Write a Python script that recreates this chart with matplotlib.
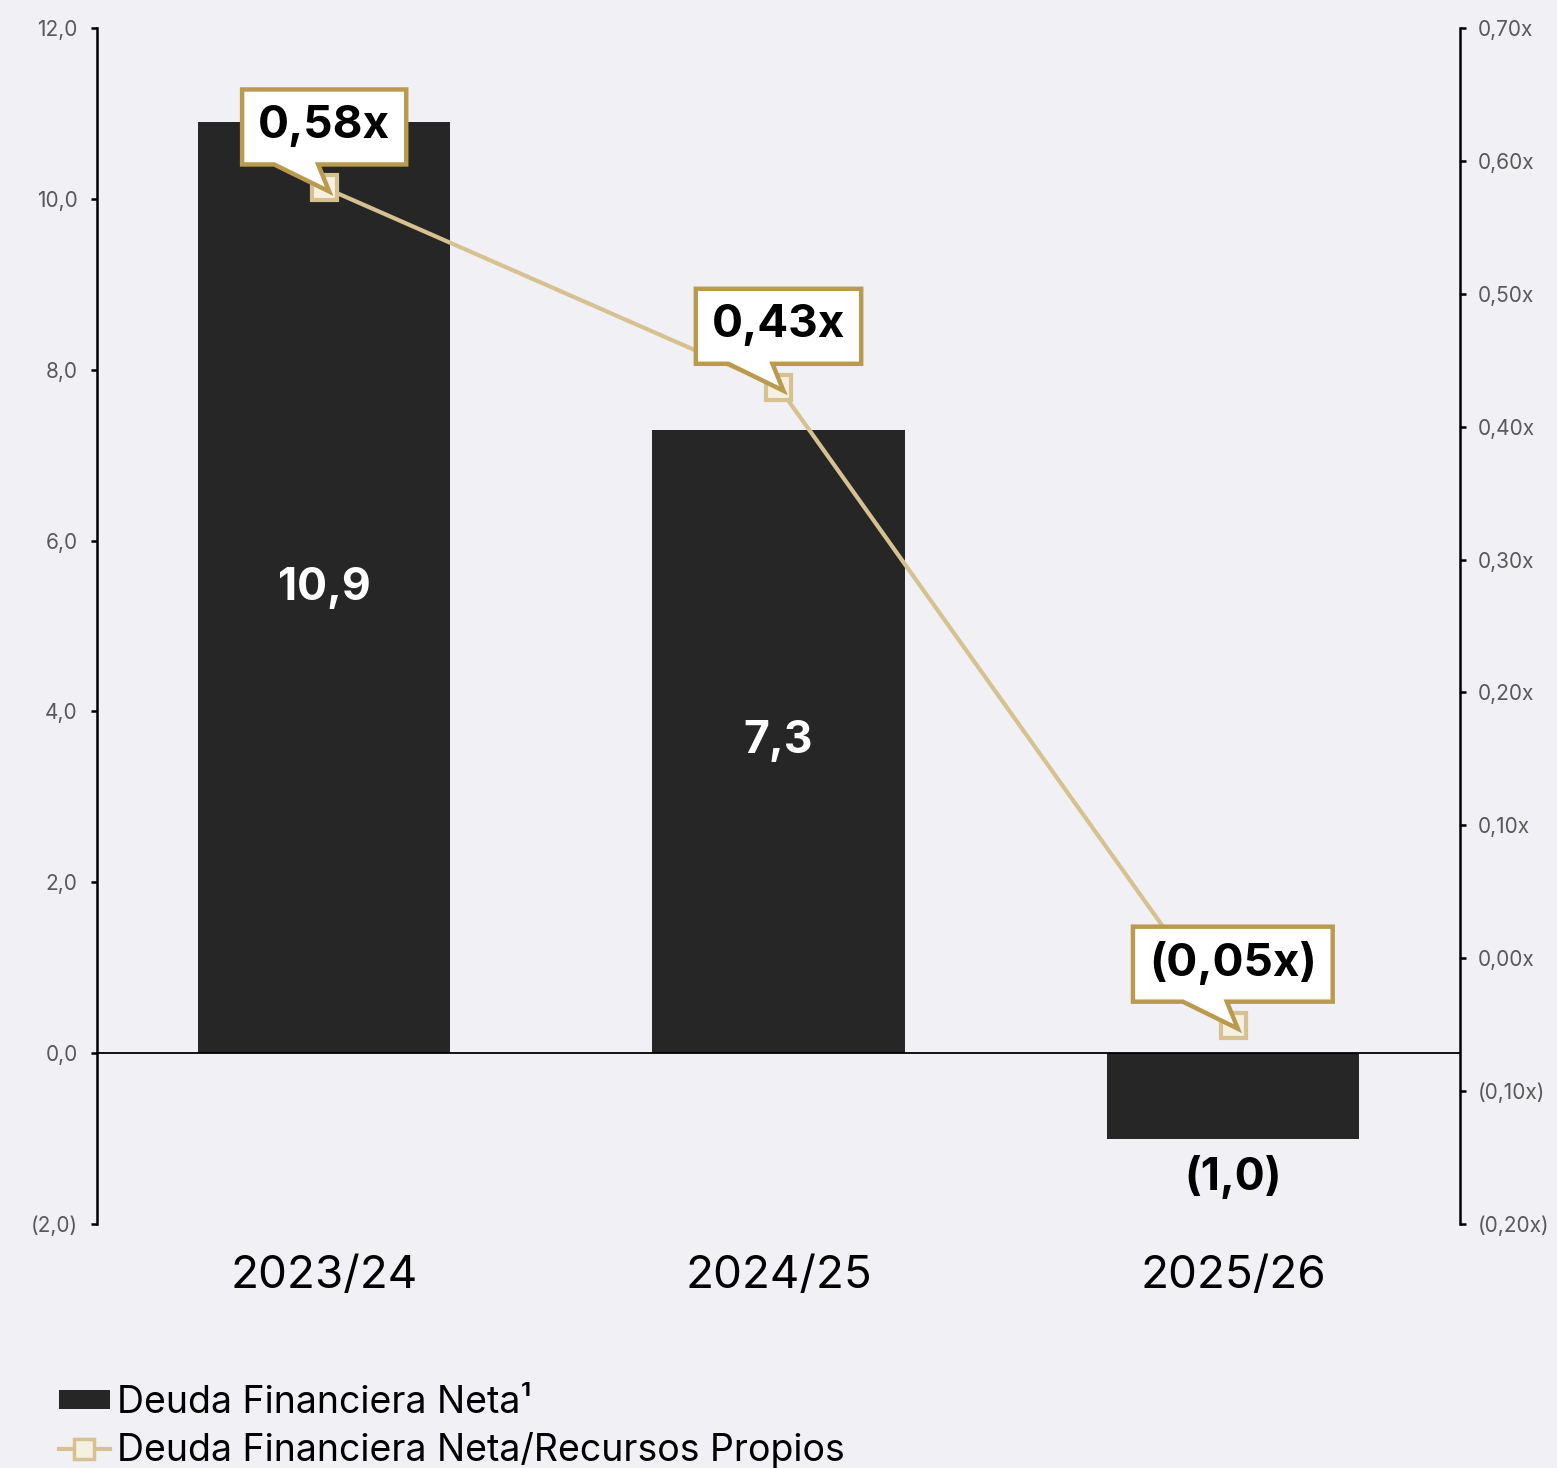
import matplotlib.pyplot as plt
import numpy as np
from matplotlib.patches import Polygon, Patch
from matplotlib.lines import Line2D
from matplotlib.transforms import ScaledTranslation

# data
periods = ['2023/24', '2024/25', '2025/26']
deuda = [10.9, 7.3, -1.0]
deuda_labels = ['10,9', '7,3', '(1,0)']
ratio = [0.58, 0.43, -0.05]
ratio_labels = ['0,58x', '0,43x', '(0,05x)']
left_ticks = [-2.0, 0.0, 2.0, 4.0, 6.0, 8.0, 10.0, 12.0]
right_ticks = [-0.2, -0.1, 0.0, 0.1, 0.2, 0.3, 0.4, 0.5, 0.6, 0.7]

bg = '#F0F0F5'
bar_col = '#262626'
tan = '#D6C290'
cream = '#F5F0E1'
gold = '#B99A4E'
grey = '#595959'

plt.rcParams['font.family'] = ['Inter', 'DejaVu Sans']


def fmt_left(v):
    s = f'{abs(v):.1f}'.replace('.', ',')
    return f'({s})' if v < -1e-9 else s


def fmt_right(v):
    s = f'{abs(v):.2f}'.replace('.', ',') + 'x'
    return f'({s})' if v < -1e-9 else s


fig = plt.figure(figsize=(15.57, 14.68), dpi=100, facecolor=bg)
ax = fig.add_axes([97/1557, 1 - 1224/1468, (1460-97)/1557, (1224-28)/1468])
ax.set_facecolor(bg)
ax2 = ax.twinx()
ax2.patch.set_visible(False)

x = np.arange(len(periods))
ax.bar(x, deuda, width=0.555, color=bar_col, zorder=2)
ax.axhline(0, color='black', lw=1.3, zorder=3)
ax.set_xlim(-0.5, 2.5)
ax.set_ylim(-2, 12)
ax.set_yticks(left_ticks)
ax.set_yticklabels([fmt_left(v) for v in left_ticks])
ax.set_xticks(x)
ax.set_xticklabels(periods, fontsize=33, color='black')
ax.tick_params(axis='x', length=0, pad=22)
ax.tick_params(axis='y', direction='out', length=4, width=1.8, pad=10,
               labelsize=15, labelcolor=grey)
for s in ['top', 'bottom', 'right']:
    ax.spines[s].set_visible(False)
ax.spines['left'].set_linewidth(1.8)

# bar labels
for i, v in enumerate(deuda):
    if v >= 0:
        ax.text(i, v / 2, deuda_labels[i], ha='center', va='center',
                color='white', fontsize=32, fontweight='bold', zorder=4)
    else:
        ax.annotate(deuda_labels[i], (i, v), xytext=(0, -28), textcoords='offset points',
                    ha='center', va='center', color='black', fontsize=32, fontweight='bold')

ax2.plot(x, ratio, color=tan, lw=3, marker='s', ms=18, mfc=cream, mec=tan, mew=3,
         zorder=3)
ax2.set_ylim(-0.2, 0.7)
ax2.set_yticks(right_ticks)
ax2.set_yticklabels([fmt_right(v) for v in right_ticks])
ax2.tick_params(axis='y', direction='out', length=4, width=1.8, pad=9,
                labelsize=15, labelcolor=grey)
for s in ['top', 'bottom', 'left']:
    ax2.spines[s].set_visible(False)
ax2.spines['right'].set_linewidth(1.8)

# callout boxes above each marker (offsets in pixels, dpi = 100)
renderer = fig.canvas.get_renderer()
for i, v in enumerate(ratio):
    trans = fig.dpi_scale_trans + ScaledTranslation(x[i], v, ax2.transData)
    t = ax2.text(0, 0.615, ratio_labels[i], transform=trans, ha='center', va='center',
                 fontsize=33, fontweight='bold', color='black', zorder=7)
    tw = t.get_window_extent(renderer).width
    hw = tw / 2 + 16
    pts = [(-hw, 23), (-50, 23), (5, -4), (-6, 23), (hw, 23), (hw, 98), (-hw, 98)]
    pts = [(px / 100, py / 100) for px, py in pts]
    box = Polygon(pts, closed=True, transform=trans, facecolor='white', edgecolor=gold,
                  lw=3.2, joinstyle='miter', zorder=6, clip_on=False)
    ax2.add_patch(box)

handles = [
    Patch(facecolor=bar_col, edgecolor='none'),
    Line2D([], [], color=tan, lw=3, marker='s', ms=14, mfc=cream, mec=tan, mew=2.5),
]
labels = ['Deuda Financiera Neta¹', 'Deuda Financiera Neta/Recursos Propios']
fig.legend(handles, labels, loc='upper left', bbox_to_anchor=(0.038, 0.0565),
           frameon=False, fontsize=27, handlelength=1.35, handleheight=0.4,
           handletextpad=0.2, labelspacing=0.28, borderpad=0, borderaxespad=0)

fig.savefig('out.png', dpi=100, facecolor=bg)
